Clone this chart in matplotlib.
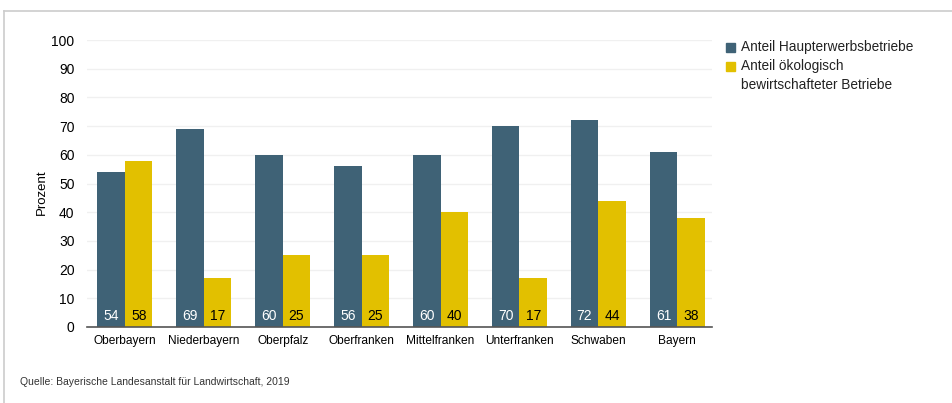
import matplotlib
matplotlib.use('Agg')
import matplotlib.pyplot as plt
from matplotlib.patches import Rectangle
import numpy as np

regions = ['Oberbayern', 'Niederbayern', 'Oberpfalz', 'Oberfranken',
           'Mittelfranken', 'Unterfranken', 'Schwaben', 'Bayern']
haupterwerb = [54, 69, 60, 56, 60, 70, 72, 61]
oekologisch = [58, 17, 25, 25, 40, 17, 44, 38]
yticks = [0, 10, 20, 30, 40, 50, 60, 70, 80, 90, 100]
legend_labels = ['Anteil Haupterwerbsbetriebe', 'Anteil ökologisch\nbewirtschafteter Betriebe']

dark = '#3f6276'
yellow = '#e2c000'

plt.rcParams['font.family'] = ['Liberation Sans', 'DejaVu Sans']

fig = plt.figure(figsize=(9.53, 4.03), dpi=100)
W, H = 953, 403
ax = fig.add_axes([87 / W, 1 - 327 / H, (712 - 87) / W, (327 - 40) / H])

x = np.arange(len(regions))
w = 0.35
ax.bar(x - w / 2, haupterwerb, w, color=dark, zorder=3)
ax.bar(x + w / 2, oekologisch, w, color=yellow, zorder=3)

for i in range(len(regions)):
    ax.text(x[i] - w / 2, 4, str(haupterwerb[i]), ha='center', va='center',
            color='white', fontsize=10, zorder=4)
    ax.text(x[i] + w / 2, 4, str(oekologisch[i]), ha='center', va='center',
            color='black', fontsize=10, zorder=4)

ax.set_xlim(-0.48, 7.44)
ax.set_ylim(0, 100)
ax.set_yticks(yticks)
ax.set_xticks(x)
ax.set_xticklabels(regions, fontsize=8.6)
ax.tick_params(axis='y', length=0, labelsize=10, pad=9)
ax.tick_params(axis='x', length=0, pad=6)
ax.yaxis.grid(True, color='#f0f0f0', linewidth=1, zorder=0)
for s in ['top', 'right', 'left']:
    ax.spines[s].set_visible(False)
ax.spines['bottom'].set_color('#555555')
ax.spines['bottom'].set_linewidth(1.2)
ax.spines['bottom'].set_zorder(5)
ax.set_ylabel('Prozent', fontsize=9.5)
ax.yaxis.set_label_coords((48 - 87) / (712 - 87), 0.47)

# legend, squares aligned with the first text line
for col, lab, yc in [(dark, legend_labels[0], 47), (yellow, legend_labels[1], 66)]:
    fig.add_artist(Rectangle((726 / W, 1 - (yc + 4.5) / H), 9 / W, 9 / H,
                             color=col, transform=fig.transFigure))
    fig.text(741 / W, 1 - (yc - 7) / H, lab, fontsize=9.8, va='top', ha='left',
             linespacing=1.45, color='#222222')

fig.text(20 / W, 1 - 382 / H, 'Quelle: Bayerische Landesanstalt für Landwirtschaft, 2019',
         fontsize=7.5, va='center', color='#333333')

# frame lines at top and left
fig.add_artist(plt.Line2D([4 / W, 1], [1 - 11 / H, 1 - 11 / H], color='#cccccc', linewidth=1.2))
fig.add_artist(plt.Line2D([4 / W, 4 / W], [0, 1 - 11 / H], color='#cccccc', linewidth=1.2))

fig.savefig('out.png', dpi=100)
